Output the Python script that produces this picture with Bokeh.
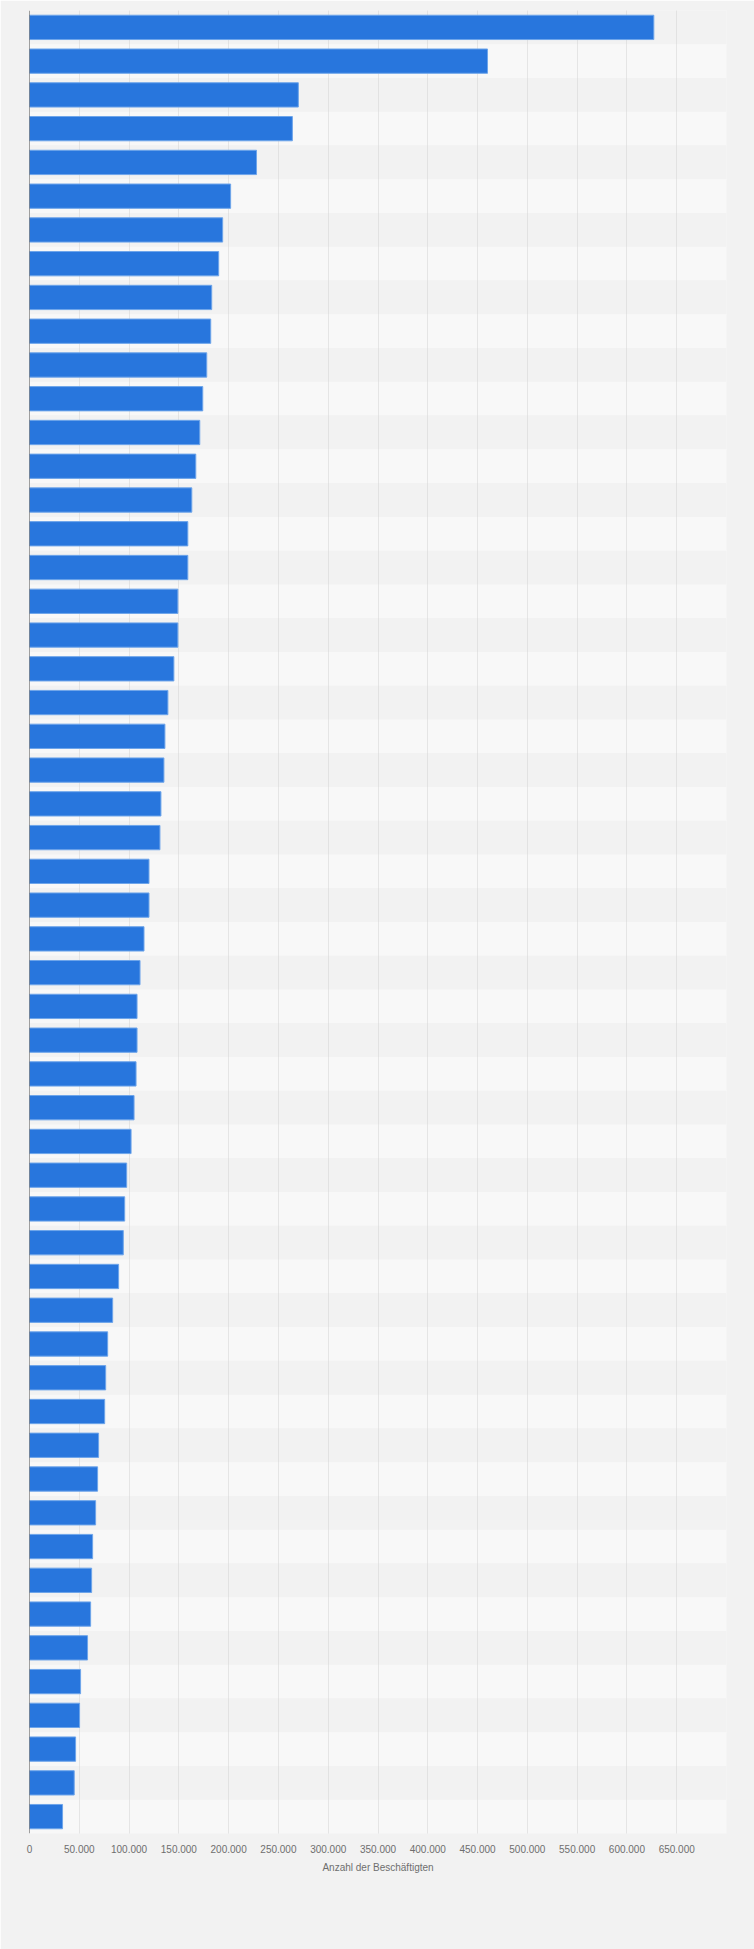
from bokeh.plotting import figure
from bokeh.models import Range1d, FixedTicker, Span
from bokeh.embed import file_html
from bokeh.resources import INLINE

# Anzahl der Beschäftigten (top to bottom)
employees = [
    627000, 460000, 270000, 264000, 228000, 202000, 194000, 190000, 183000, 182000,
    178000, 174000, 171000, 167000, 163000, 159000, 159000, 149000, 149000, 145000,
    139000, 136000, 135000, 132000, 131000, 120000, 120000, 115000, 111000, 108000,
    108000, 107000, 105000, 102000, 97600, 95600, 94200, 89500, 83500, 78500,
    76500, 75500, 69400, 68400, 66400, 63400, 62400, 61400, 58300, 51300,
    50300, 46300, 44900, 33200,
]

tick_values = [0, 50000, 100000, 150000, 200000, 250000, 300000, 350000,
               400000, 450000, 500000, 550000, 600000, 650000]
tick_labels = ["0", "50.000", "100.000", "150.000", "200.000", "250.000", "300.000",
               "350.000", "400.000", "450.000", "500.000", "550.000", "600.000", "650.000"]
grid_values = [50000, 100000, 150000, 200000, 250000, 300000, 350000, 400000,
               450000, 500000, 550000, 600000, 650000, 700000]
x_max = 700000
x_title = "Anzahl der Beschäftigten"

n = len(employees)
rows = list(range(n))
band_fill = ["#f2f2f2" if i % 2 == 0 else "#f8f8f8" for i in rows]

FONT = "Liberation Sans"

p = figure(width=754, height=1949, output_backend="svg", toolbar_location=None,
           x_range=Range1d(0, x_max), y_range=Range1d(n - 0.5, -0.5),
           y_axis_location=None,
           min_border_left=29, min_border_right=28, min_border_top=10, min_border_bottom=116)
p.background_fill_color = "#f2f2f2"
p.border_fill_color = "#f2f2f2"
p.outline_line_color = None

# alternating row bands (drawn beneath the grid)
p.hbar(y=rows, left=0, right=x_max, height=1.0, fill_color=band_fill,
       line_color=None, level="image")

# grid
p.ygrid.visible = False
p.xgrid.ticker = FixedTicker(ticks=grid_values)
p.xgrid.grid_line_color = "#d2d2d2"
p.xgrid.grid_line_dash = "1 1"
p.xgrid.grid_line_width = 1
p.xgrid.level = "underlay"

# bars
p.hbar(y=rows, left=0, right=employees, height=0.72,
       fill_color="#2876dd", line_color="#6ea5ea", line_width=1)

# left axis line
p.add_layout(Span(location=0, dimension="height", line_color="#4a4a4a", line_width=1))

# x axis
ax = p.xaxis[0]
ax.ticker = FixedTicker(ticks=tick_values)
ax.major_label_overrides = dict(zip(tick_values, tick_labels))
ax.axis_line_color = None
ax.major_tick_line_color = None
ax.minor_tick_line_color = None
ax.major_tick_out = 0
ax.major_tick_in = 0
ax.major_label_standoff = 11
ax.major_label_text_font = FONT
ax.major_label_text_font_size = "10px"
ax.major_label_text_color = "#6e6e6e"
ax.axis_label = x_title
ax.axis_label_text_font = FONT
ax.axis_label_text_font_size = "10px"
ax.axis_label_text_font_style = "normal"
ax.axis_label_text_color = "#6e6e6e"
ax.axis_label_standoff = 6

open("out.html", "w").write(file_html(p, INLINE))
